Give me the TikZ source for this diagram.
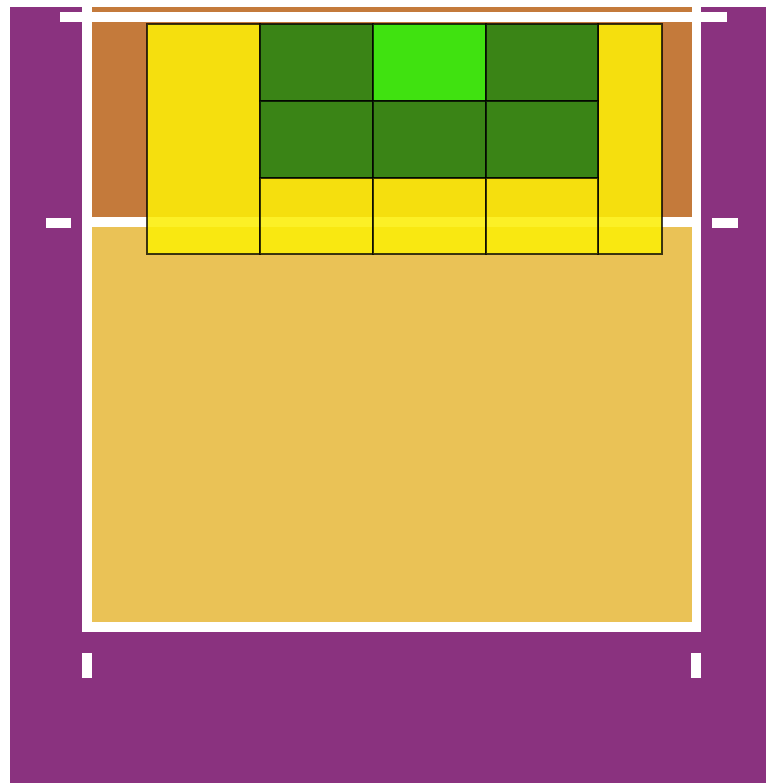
\documentclass[tikz,border=0pt]{standalone}
\begin{document}
\begin{tikzpicture}[x=1pt,y=-1pt,
  ylw/.style={fill=yellowc,fill opacity=0.88,draw=black,draw opacity=0.75,line width=1.1pt},
  grn/.style={fill=greenc,draw=black,draw opacity=0.75,line width=1.1pt},
  lgrn/.style={fill=lgreenc,draw=black,draw opacity=0.75,line width=1.1pt}]
\definecolor{purplec}{RGB}{138,50,127}
\definecolor{orangec}{RGB}{196,122,59}
\definecolor{lorangec}{RGB}{234,194,86}
\definecolor{yellowc}{RGB}{252,238,8}
\definecolor{greenc}{RGB}{58,132,22}
\definecolor{lgreenc}{RGB}{64,226,16}
\useasboundingbox (0,0) rectangle (766,783);
\fill[white] (0,0) rectangle (766,783);
% purple surround
\fill[purplec] (10,7) rectangle (766,783);
% court lines (white frame)
\fill[white] (82,7) rectangle (701,632);
% front zone and back zone
\fill[orangec] (92,7) rectangle (692,12);
\fill[orangec] (92,22) rectangle (692,217);
\fill[lorangec] (92,227) rectangle (692,622);
% net line
\fill[white] (60,12) rectangle (727,22);
% antenna marks
\fill[white] (46,218) rectangle (71,228);
\fill[white] (712,218) rectangle (738,228);
% post marks
\fill[white] (82,653) rectangle (92,678);
\fill[white] (691,653) rectangle (701,678);
% zones grid
\draw[ylw] (147,24) rectangle (260,254);
\draw[ylw] (598,24) rectangle (662,254);
\draw[grn] (260,24) rectangle (373,101);
\draw[lgrn] (373,24) rectangle (486,101);
\draw[grn] (486,24) rectangle (598,101);
\draw[grn] (260,101) rectangle (373,178);
\draw[grn] (373,101) rectangle (486,178);
\draw[grn] (486,101) rectangle (598,178);
\draw[ylw] (260,178) rectangle (373,254);
\draw[ylw] (373,178) rectangle (486,254);
\draw[ylw] (486,178) rectangle (598,254);
\end{tikzpicture}
\end{document}
